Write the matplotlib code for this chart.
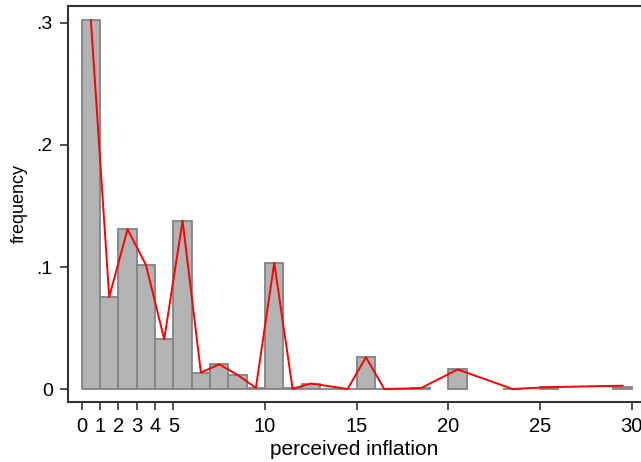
import matplotlib.pyplot as plt

plt.rcParams['font.family'] = ['Liberation Sans', 'DejaVu Sans']

# histogram bins (width 1, left edges) and heights
bin_left = [0, 1, 2, 3, 4, 5, 6, 7, 8, 9, 10, 11, 12, 13, 14, 15, 16, 17, 18,
            20, 23, 25, 29]
freq = [0.302, 0.0755, 0.131, 0.102, 0.041, 0.138, 0.0137, 0.0205, 0.0118, 0.0008,
        0.1035, 0.0008, 0.0045, 0.0004, 0.0006, 0.0263, 0.0006, 0.0004, 0.0008,
        0.0163, 0.0006, 0.0016, 0.0022]

# red frequency polygon through bin midpoints
line_x = [0.5, 1.5, 2.5, 3.5, 4.5, 5.5, 6.5, 7.5, 8.5, 9.5, 10.5, 11.5, 12.5,
          14.5, 15.5, 16.5, 18.5, 20.5, 23.5, 25.5, 29.5]
line_y = [0.302, 0.0755, 0.131, 0.102, 0.041, 0.138, 0.0137, 0.0205, 0.0118, 0.0012,
          0.1035, 0.0004, 0.0048, 0.0003, 0.0263, 0.0003, 0.001, 0.0163, 0.0003,
          0.0018, 0.003]

xticks = [0, 1, 2, 3, 4, 5, 10, 15, 20, 25, 30]
yticks = [0, 0.1, 0.2, 0.3]
ytick_labels = ['0', '.1', '.2', '.3']

fig = plt.figure(figsize=(6.41, 4.62), dpi=100)
ax = fig.add_axes([0.106, 0.13, 0.894, 0.857])

ax.bar(bin_left, freq, width=1, align='edge', color='#b3b3b3',
       edgecolor='#838383', linewidth=1.3)
ax.plot(line_x, line_y, color='red', linewidth=1.4)

ax.set_xlim(-0.75, 30.5)
ax.set_ylim(-0.0103, 0.3137)
ax.set_xticks(xticks)
ax.set_xticklabels([str(t) for t in xticks])
ax.set_yticks(yticks)
ax.set_yticklabels(ytick_labels)
ax.tick_params(length=6, width=1.2, color='#333333')
ax.tick_params(axis='x', labelsize=14.5, pad=5)
ax.tick_params(axis='y', labelsize=14, pad=5)

ax.spines['right'].set_visible(False)
for s in ['left', 'top', 'bottom']:
    ax.spines[s].set_linewidth(1.5)
    ax.spines[s].set_color('#333333')

ax.set_xlabel('perceived inflation', fontsize=15, labelpad=3)
ax.set_ylabel('frequency', fontsize=13, labelpad=6)

fig.savefig('out.png', dpi=100)
